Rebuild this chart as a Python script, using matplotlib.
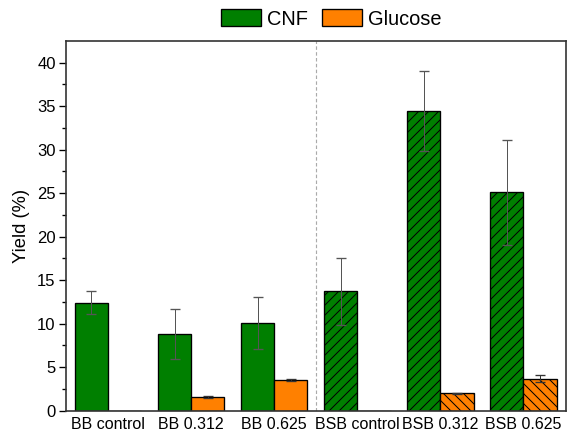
import matplotlib
matplotlib.use('Agg')
import matplotlib.pyplot as plt
import numpy as np

plt.rcParams['font.family'] = ['Liberation Sans', 'DejaVu Sans']
plt.rcParams['hatch.linewidth'] = 0.6

# sample groups
samples = ['BB control', 'BB 0.312', 'BB 0.625', 'BSB control', 'BSB 0.312', 'BSB 0.625']

# yields (%) and errors
cnf = [12.4, 8.8, 10.1, 13.7, 34.5, 25.1]
cnf_err = [1.3, 2.9, 3.0, 3.8, 4.6, 6.0]
glucose = [0.0, 1.6, 3.55, 0.0, 2.0, 3.7]
glucose_err = [0.0, 0.1, 0.15, 0.0, 0.05, 0.35]

hatch_cnf = ['', '', '', '////', '////', '////']
hatch_glu = ['', '', '', '\\\\\\\\', '\\\\\\\\', '\\\\\\\\']

green = '#007f00'
orange = '#ff8000'

fig = plt.figure(figsize=(571 / 120, 434 / 120), dpi=120)
ax = fig.add_axes([0.115, 0.0537, 0.876, 0.852])

x = np.arange(len(samples))
w = 0.4

b1 = ax.bar(x - w / 2, cnf, w, color=green, edgecolor='black', linewidth=0.8, label='CNF')
b2 = ax.bar(x + w / 2, glucose, w, color=orange, edgecolor='black', linewidth=0.8, label='Glucose')
for bar, h in zip(b1, hatch_cnf):
    bar.set_hatch(h)
for bar, h in zip(b2, hatch_glu):
    bar.set_hatch(h)

# error bars (skip zero-valued glucose)
ax.errorbar(x - w / 2, cnf, yerr=cnf_err, fmt='none', ecolor='#555555',
            elinewidth=0.6, capsize=3, capthick=0.8)
gx = [xi + w / 2 for xi, g in zip(x, glucose) if g > 0]
gy = [g for g in glucose if g > 0]
ge = [e for g, e in zip(glucose, glucose_err) if g > 0]
ax.errorbar(gx, gy, yerr=ge, fmt='none', ecolor='#333333',
            elinewidth=0.6, capsize=3, capthick=0.8)

ax.axvline(2.5, color='#aaaaaa', linestyle='--', linewidth=0.7, dashes=(3, 2))

ax.set_xlim(-0.51, 5.51)
ax.set_ylim(0, 42.5)
ax.set_xticks(x)
ax.set_xticklabels(samples, fontsize=9.6)
ax.set_yticks(np.arange(0, 41, 5))
ax.set_yticks(np.arange(2.5, 42.5, 5), minor=True)
ax.tick_params(axis='x', length=0, pad=4)
ax.tick_params(axis='y', which='major', direction='out', length=4, width=0.8, labelsize=10, pad=2)
ax.tick_params(axis='y', which='minor', direction='out', length=2.4, width=0.8)
for s in ax.spines.values():
    s.set_linewidth(1.0)
    s.set_color('#333333')

ax.set_ylabel('Yield (%)', fontsize=11, labelpad=4)

fig.legend(handles=[b1, b2], labels=['CNF', 'Glucose'], loc='center',
           bbox_to_anchor=(0.5806, 0.956), ncol=2, frameon=False, fontsize=12,
           handlelength=2.0, handleheight=0.9, handletextpad=0.3, columnspacing=0.7)

fig.savefig('out.png', dpi=120)
